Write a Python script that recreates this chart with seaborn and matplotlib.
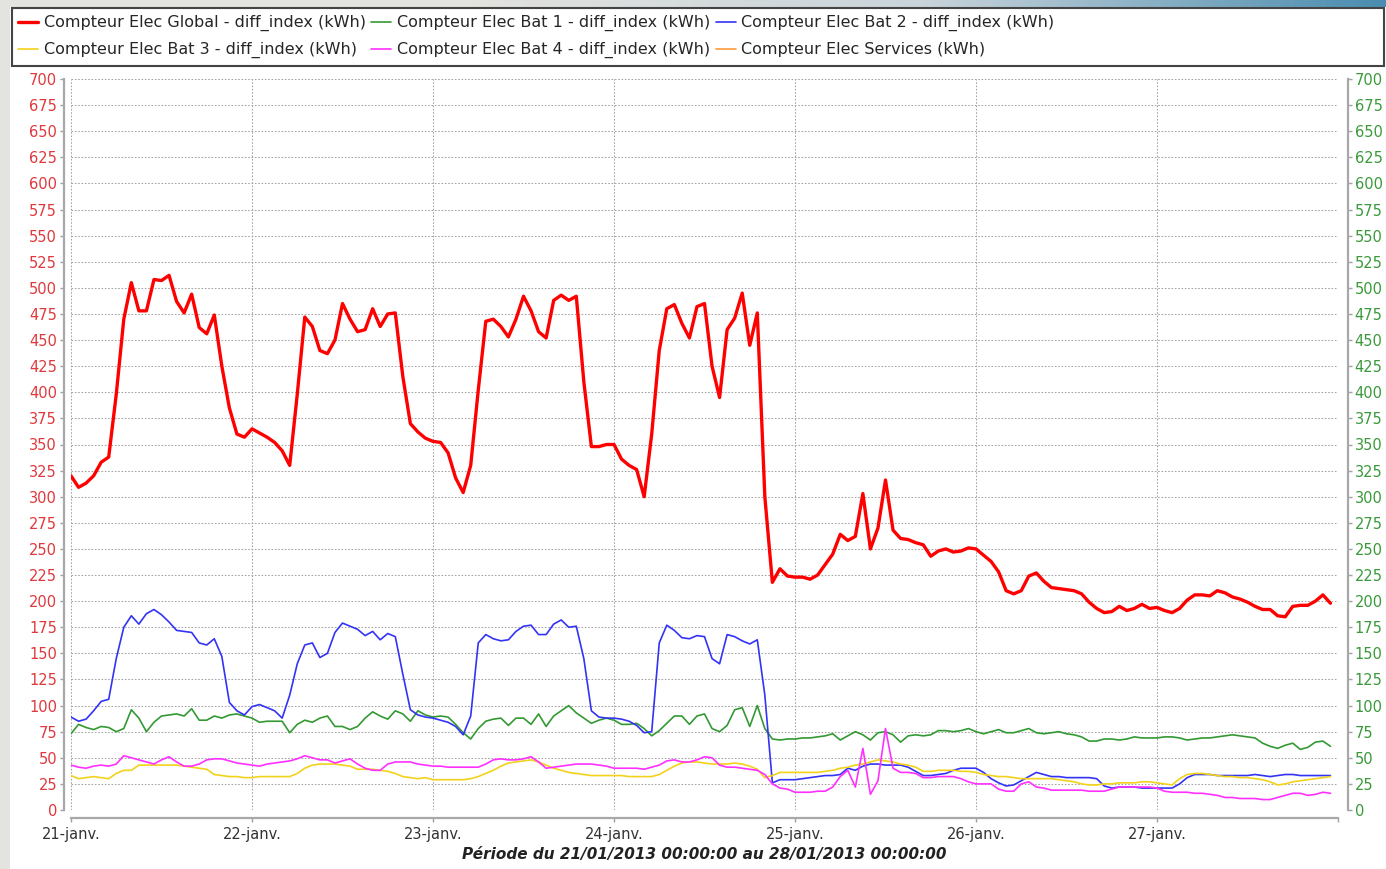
import numpy as np
import pandas as pd
import matplotlib.pyplot as plt
import matplotlib.patches as patches
from matplotlib.lines import Line2D
import seaborn as sns

# Hourly readings, 21/01/2013 00:00 -> 27/01/2013 23:00 (one list per day)
glob_d1 = [320, 309, 313, 320, 333, 338, 398, 470, 505, 478, 478, 508, 507, 512, 487, 476, 494, 462, 456, 474, 425, 385, 360, 357]
glob_d2 = [365, 361, 357, 352, 344, 330, 398, 472, 463, 440, 437, 450, 485, 470, 458, 460, 480, 463, 475, 476, 415, 370, 362, 356]
glob_d3 = [353, 352, 342, 318, 304, 330, 402, 468, 470, 463, 453, 470, 492, 478, 458, 452, 488, 493, 488, 492, 410, 348, 348, 350]
glob_d4 = [350, 336, 330, 326, 300, 360, 440, 480, 484, 466, 452, 482, 485, 425, 395, 460, 471, 495, 445, 476, 300, 218, 231, 224]
glob_d5 = [223, 223, 221, 225, 235, 245, 264, 258, 262, 303, 250, 270, 316, 268, 260, 259, 256, 254, 243, 248, 250, 247, 248, 251]
glob_d6 = [250, 244, 238, 228, 210, 207, 210, 224, 227, 219, 213, 212, 211, 210, 207, 199, 193, 189, 190, 195, 191, 193, 197, 193]
glob_d7 = [194, 191, 189, 193, 201, 206, 206, 205, 210, 208, 204, 202, 199, 195, 192, 192, 186, 185, 195, 196, 196, 200, 206, 198]

bat1_d1 = [73, 82, 79, 77, 80, 79, 75, 78, 96, 88, 75, 84, 90, 91, 92, 90, 97, 86, 86, 90, 88, 91, 92, 90]
bat1_d2 = [88, 84, 85, 85, 85, 74, 82, 86, 84, 88, 90, 80, 80, 77, 80, 88, 94, 90, 87, 95, 92, 85, 95, 91]
bat1_d3 = [89, 90, 89, 82, 74, 68, 78, 85, 87, 88, 81, 88, 88, 82, 92, 80, 90, 95, 100, 93, 88, 83, 86, 88]
bat1_d4 = [86, 82, 82, 83, 78, 71, 76, 83, 90, 90, 82, 90, 92, 78, 75, 81, 96, 98, 80, 100, 78, 68, 67, 68]
bat1_d5 = [68, 69, 69, 70, 71, 73, 67, 71, 75, 72, 67, 74, 75, 72, 65, 71, 72, 71, 72, 76, 76, 75, 76, 78]
bat1_d6 = [75, 73, 75, 77, 74, 74, 76, 78, 74, 73, 74, 75, 73, 72, 70, 66, 66, 68, 68, 67, 68, 70, 69, 69]
bat1_d7 = [69, 70, 70, 69, 67, 68, 69, 69, 70, 71, 72, 71, 70, 69, 64, 61, 59, 62, 64, 58, 60, 65, 66, 61]

bat2_d1 = [89, 85, 87, 95, 104, 106, 145, 175, 186, 178, 188, 192, 187, 180, 172, 171, 170, 160, 158, 164, 147, 103, 95, 91]
bat2_d2 = [99, 101, 98, 95, 88, 110, 140, 158, 160, 146, 150, 170, 179, 176, 173, 167, 171, 163, 169, 166, 130, 96, 91, 89]
bat2_d3 = [88, 86, 84, 80, 72, 90, 160, 168, 164, 162, 163, 171, 176, 177, 168, 168, 178, 182, 175, 176, 145, 95, 89, 88]
bat2_d4 = [88, 87, 85, 81, 74, 75, 160, 177, 172, 165, 164, 167, 166, 145, 140, 168, 166, 162, 159, 163, 110, 26, 29, 29]
bat2_d5 = [29, 30, 31, 32, 33, 33, 34, 40, 38, 42, 44, 44, 43, 43, 43, 41, 37, 33, 33, 34, 35, 38, 40, 40]
bat2_d6 = [40, 36, 30, 26, 23, 24, 28, 32, 36, 34, 32, 32, 31, 31, 31, 31, 30, 23, 21, 22, 22, 22, 21, 21]
bat2_d7 = [21, 21, 21, 25, 31, 34, 34, 34, 33, 33, 33, 33, 33, 34, 33, 32, 33, 34, 34, 33, 33, 33, 33, 33]

bat3_d1 = [33, 30, 31, 32, 31, 30, 35, 38, 38, 43, 43, 43, 43, 43, 43, 42, 41, 40, 39, 34, 33, 32, 32, 31]
bat3_d2 = [31, 32, 32, 32, 32, 32, 35, 40, 43, 44, 44, 44, 43, 42, 39, 39, 39, 38, 37, 35, 32, 31, 30, 31]
bat3_d3 = [29, 29, 29, 29, 29, 30, 32, 35, 38, 42, 45, 46, 47, 48, 46, 43, 40, 38, 36, 35, 34, 33, 33, 33]
bat3_d4 = [33, 33, 32, 32, 32, 32, 34, 38, 42, 45, 46, 46, 45, 44, 44, 44, 45, 44, 42, 39, 31, 33, 36, 36]
bat3_d5 = [36, 36, 36, 36, 37, 38, 40, 41, 43, 44, 46, 48, 47, 46, 44, 43, 41, 37, 37, 38, 38, 38, 37, 37]
bat3_d6 = [36, 34, 33, 32, 32, 31, 30, 30, 30, 30, 30, 29, 28, 27, 25, 24, 24, 25, 25, 26, 26, 26, 27, 27]
bat3_d7 = [26, 25, 24, 30, 34, 35, 35, 34, 33, 32, 32, 31, 31, 30, 29, 27, 24, 25, 27, 28, 29, 30, 31, 32]

bat4_d1 = [43, 41, 40, 42, 43, 42, 44, 52, 50, 48, 46, 44, 48, 51, 46, 42, 42, 44, 48, 49, 49, 47, 45, 44]
bat4_d2 = [43, 42, 44, 45, 46, 47, 49, 52, 50, 48, 48, 45, 47, 49, 44, 40, 38, 38, 44, 46, 46, 46, 44, 43]
bat4_d3 = [42, 42, 41, 41, 41, 41, 41, 44, 48, 49, 48, 48, 49, 51, 46, 40, 41, 42, 43, 44, 44, 44, 43, 42]
bat4_d4 = [40, 40, 40, 40, 39, 41, 43, 47, 48, 46, 46, 48, 51, 50, 43, 41, 41, 40, 39, 38, 34, 25, 21, 20]
bat4_d5 = [17, 17, 17, 18, 18, 22, 32, 38, 22, 59, 15, 28, 78, 40, 36, 36, 35, 31, 31, 32, 32, 32, 30, 27]
bat4_d6 = [25, 25, 25, 20, 18, 18, 25, 27, 22, 21, 19, 19, 19, 19, 19, 18, 18, 18, 20, 22, 22, 22, 22, 22]
bat4_d7 = [21, 18, 17, 17, 17, 16, 16, 15, 14, 12, 12, 11, 11, 11, 10, 10, 12, 14, 16, 16, 14, 15, 17, 16]

# Services meter: no readings on this period
services = []

day_labels = ["21-janv.", "22-janv.", "23-janv.", "24-janv.", "25-janv.", "26-janv.", "27-janv.", ""]
series_names = [
    "Compteur Elec Global - diff_index (kWh)",
    "Compteur Elec Bat 1 - diff_index (kWh)",
    "Compteur Elec Bat 2 - diff_index (kWh)",
    "Compteur Elec Bat 3 - diff_index (kWh)",
    "Compteur Elec Bat 4 - diff_index (kWh)",
    "Compteur Elec Services (kWh)",
]
colors = ["#ff0000", "#339933", "#3333f5", "#f2d21b", "#ff30ff", "#ff9a40"]

glob = glob_d1 + glob_d2 + glob_d3 + glob_d4 + glob_d5 + glob_d6 + glob_d7
bat1 = bat1_d1 + bat1_d2 + bat1_d3 + bat1_d4 + bat1_d5 + bat1_d6 + bat1_d7
bat2 = bat2_d1 + bat2_d2 + bat2_d3 + bat2_d4 + bat2_d5 + bat2_d6 + bat2_d7
bat3 = bat3_d1 + bat3_d2 + bat3_d3 + bat3_d4 + bat3_d5 + bat3_d6 + bat3_d7
bat4 = bat4_d1 + bat4_d2 + bat4_d3 + bat4_d4 + bat4_d5 + bat4_d6 + bat4_d7

times = pd.date_range("2013-01-21 00:00", periods=len(glob), freq="h")
days = pd.date_range("2013-01-21", "2013-01-28", freq="D")

sns.set_style("white")
plt.rcParams["font.family"] = ["DejaVu Sans"]

W, H = 1386, 869
fig = plt.figure(figsize=(W / 100, H / 100), dpi=100, facecolor="white")

# window chrome: grey left strip and top bar fading to blue
fig.patches.append(patches.Rectangle((0, 0), 10 / W, 1, transform=fig.transFigure,
                                     facecolor="#e3e3df", edgecolor="none", zorder=0))
bar = fig.add_axes([0, 1 - 7 / H, 1, 7 / H])
grad = np.linspace(0, 1, 256)
bar.imshow(grad[np.newaxis, :], aspect="auto",
           cmap=sns.blend_palette(["#e3e3df", "#e3e3df", "#c9d4da", "#4a8db0"], as_cmap=True))
bar.axis("off")

# legend frame
fig.patches.append(patches.Rectangle((12 / W, 1 - 66 / H), 1372 / W, 58 / H,
                                     transform=fig.transFigure, facecolor="white",
                                     edgecolor="#444444", linewidth=1.5, zorder=1))

ax = fig.add_axes([71 / W, 1 - 810 / H, (1338 - 71) / W, (810 - 79) / H])

data = [glob, bat1, bat2, bat3, bat4]
widths = [2.4, 1.2, 1.2, 1.2, 1.2]
order = [0, 1, 3, 4, 2]  # draw blue above the small ones like the original
for i in order:
    sns.lineplot(x=times, y=data[i], ax=ax, color=colors[i], linewidth=widths[i],
                 zorder=3 + i, solid_joinstyle="round")
if services:
    sns.lineplot(x=times[:len(services)], y=services, ax=ax, color=colors[5], linewidth=1.2)

ax.set_xlim(days[0], days[-1])
ax.set_ylim(0, 700)
yt = np.arange(0, 701, 25)
ax.set_yticks(yt)
ax.set_xticks(days)
ax.set_xticklabels(day_labels)
ax.grid(True, color="#a6a6a6", linestyle=(0, (1.6, 1.6)), linewidth=0.75)
ax.set_axisbelow(True)

for s in ["top", "right"]:
    ax.spines[s].set_visible(False)
ax.spines["left"].set_position(("outward", 5))
ax.spines["bottom"].set_position(("outward", 6))
for s in ["left", "bottom"]:
    ax.spines[s].set_color("#a8a8a8")
    ax.spines[s].set_linewidth(1.6)

ax.tick_params(axis="y", colors="#a0a0a0", labelcolor="#e0383c", labelsize=10.5,
               length=3, width=1, pad=2, left=True)
ax.tick_params(axis="x", colors="#a0a0a0", labelcolor="#333333", labelsize=10.5,
               length=3, width=1, pad=3, bottom=True)
ax.set_xlabel("Période du 21/01/2013 00:00:00 au 28/01/2013 00:00:00",
              fontsize=11, fontweight="bold", fontstyle="italic", color="#222222", labelpad=4)
ax.set_ylabel("")

ax2 = ax.twinx()
ax2.set_ylim(0, 700)
ax2.set_yticks(yt)
ax2.grid(False)
for s in ["top", "left", "bottom"]:
    ax2.spines[s].set_visible(False)
ax2.spines["right"].set_position(("outward", 7))
ax2.spines["right"].set_color("#a8a8a8")
ax2.spines["right"].set_linewidth(1.6)
ax2.tick_params(axis="y", colors="#a0a0a0", labelcolor="#3a9a3a", labelsize=10.5,
                length=3, width=1, pad=2, right=True)

# legend, row-wise order in three columns
handles = [Line2D([], [], color=c, linewidth=(2.4 if i == 0 else 1.2)) for i, c in enumerate(colors)]
idx = [0, 3, 1, 4, 2, 5]
fig.legend([handles[i] for i in idx], [series_names[i] for i in idx], ncol=3,
           loc="upper left", bbox_to_anchor=(15 / W, 1 - 12 / H), frameon=False,
           fontsize=11.5, handlelength=1.25, handletextpad=0.35, columnspacing=0.35,
           labelspacing=0.68, borderaxespad=0, borderpad=0.2)

fig.savefig("out.png", dpi=100, facecolor=fig.get_facecolor())
